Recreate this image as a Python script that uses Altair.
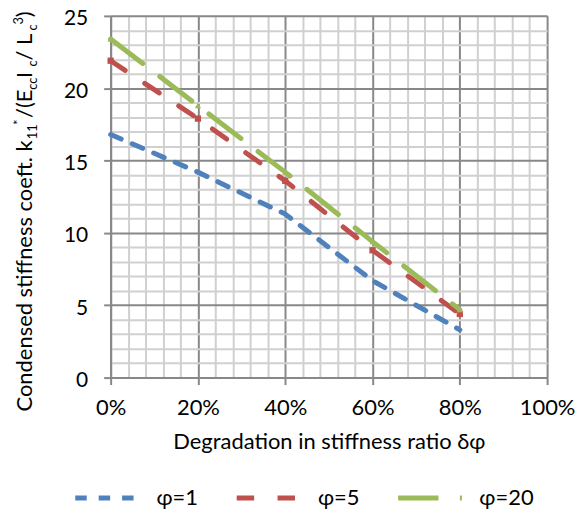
import altair as alt
import pandas as pd

# ---- data ----
x_vals = [0.0, 0.2, 0.4, 0.6, 0.8]
phi1 = [16.8, 14.2, 11.3, 6.7, 3.3]
phi5 = [21.9, 17.9, 13.6, 8.8, 4.4]
phi20 = [23.4, 18.8, 14.2, 9.4, 4.7]
series = ["φ=1", "φ=5", "φ=20"]
colors = ["#4F81BD", "#C0504D", "#9BBB59"]
dashes = [[11.5, 12], [17.5, 23.5], [40.5, 21.5]]
x_ticks = [round(i * 0.04, 2) for i in range(26)]
y_ticks = list(range(0, 26))

FONT = "Lato"
FS = 22
SUB = 13

rows = []
for name, vals in zip(series, [phi1, phi5, phi20]):
    for xv, v in zip(x_vals, vals):
        rows.append({"x": xv, "value": v, "series": name})
df = pd.DataFrame(rows)

MAJOR = "#888888"
MINOR = "#D0D0D0"

x_major = "abs(datum.value*5 - round(datum.value*5)) < 0.001"
y_major = "datum.value % 5 === 0"

x_axis = alt.Axis(
    values=x_ticks, tickCount=100,
    labelExpr=f"({x_major}) ? format(datum.value, '.0%') : ''",
    grid=True,
    gridColor={"condition": {"test": x_major, "value": MAJOR}, "value": MINOR},
    gridWidth=2,
    tickColor={"condition": {"test": x_major, "value": MAJOR}, "value": "transparent"},
    tickWidth=2, tickSize=7,
    domainColor=MAJOR, domainWidth=2,
    labelFont=FONT, labelFontSize=FS, labelColor="#000000",
    labelBaseline="alphabetic", labelPadding=30, labelFlush=False, labelOverlap=False,
    title="Degradation in stiffness ratio δφ",
    titleFont=FONT, titleFontSize=FS, titleFontWeight="normal", titleColor="#000000",
    titleBaseline="alphabetic", titleY=71,
)
y_axis = alt.Axis(
    values=y_ticks, tickCount=100,
    labelExpr=f"({y_major}) ? datum.value : ''",
    grid=True,
    gridColor={"condition": {"test": y_major, "value": MAJOR}, "value": MINOR},
    gridWidth=2,
    tickColor={"condition": {"test": y_major, "value": MAJOR}, "value": "transparent"},
    tickWidth=2, tickSize=7,
    domainColor=MAJOR, domainWidth=2,
    labelFont=FONT, labelFontSize=21, labelColor="#000000",
    labelPadding=16, labelOffset=3, labelFlush=False, labelOverlap=False,
    title=None,
)

legend = alt.Legend(
    title=None, orient="none", legendX=-38, legendY=449, direction="horizontal",
    symbolType="stroke", symbolSize=4096, symbolStrokeWidth=5,
    labelFont=FONT, labelFontSize=FS, labelColor="#000000",
    labelOffset=15, columnPadding=28, padding=0,
)

xs = alt.Scale(domain=[0, 1], nice=False)
ys = alt.Scale(domain=[0, 25], nice=False)

lines = alt.Chart(df).mark_line(strokeWidth=5, strokeCap="round").encode(
    x=alt.X("x:Q", scale=xs, axis=x_axis),
    y=alt.Y("value:Q", scale=ys, axis=y_axis),
    color=alt.Color("series:N", scale=alt.Scale(domain=series, range=colors), legend=legend),
    strokeDash=alt.StrokeDash("series:N", scale=alt.Scale(domain=series, range=dashes), legend=legend),
    detail="series:N",
)

pts = alt.Chart(df).transform_filter("datum.series !== 'φ=1'").mark_point(
    filled=True, opacity=1, size=40, strokeWidth=0
).encode(
    x=alt.X("x:Q", scale=xs),
    y=alt.Y("value:Q", scale=ys),
    color=alt.Color("series:N", scale=alt.Scale(domain=series, range=colors), legend=None),
    shape=alt.Shape("series:N", scale=alt.Scale(domain=["φ=5", "φ=20"], range=["square", "triangle-up"]), legend=None),
)

# ---- y-axis title with sub/superscripts, built from segments ----
W = {" ": .226, "C": .533, "o": .527, "n": .525, "d": .525, "e": .498, "s": .391, "t": .335,
     "i": .229, "f": .305, "c": .423, ".": .252, "k": .455, "1": .507, "*": .498, "/": .386,
     "(": .303, ")": .303, "E": .488, "I": .252, "L": .420, "3": .507}
K = 1.09
segments = [
    ("Condensed stiffness coeft. k", FS, 0),
    ("11", SUB, 5),
    ("*", SUB, -9),
    ("/(E", FS, 0),
    ("cc", SUB, 5),
    (" I", FS, 0),
    ("c", SUB, 5),
    (" / L", FS, 0),
    ("c", SUB, 5),
    ("3", SUB, -9),
    (")", FS, 0),
]
TX, TY = -79, 397
title_layers = []
off = 0.0
for txt, size, shift in segments:
    title_layers.append(
        alt.Chart(pd.DataFrame({"t": [txt]})).mark_text(
            angle=270, align="left", baseline="alphabetic", font=FONT, fontSize=size,
            color="#000000", dx=off, dy=shift,
        ).encode(text="t:N", x=alt.value(TX), y=alt.value(TY))
    )
    off += sum(W.get(ch, 0.5) for ch in txt) * size * K

chart = alt.layer(lines, pts, *title_layers).properties(
    width=438, height=363,
    autosize=alt.AutoSizeParams(type="none"),
    padding={"left": 103, "top": 7, "right": 28, "bottom": 140},
).configure_view(stroke=None).configure(font=FONT)

chart.save("out.html", embed_options={"renderer": "svg", "actions": False})
